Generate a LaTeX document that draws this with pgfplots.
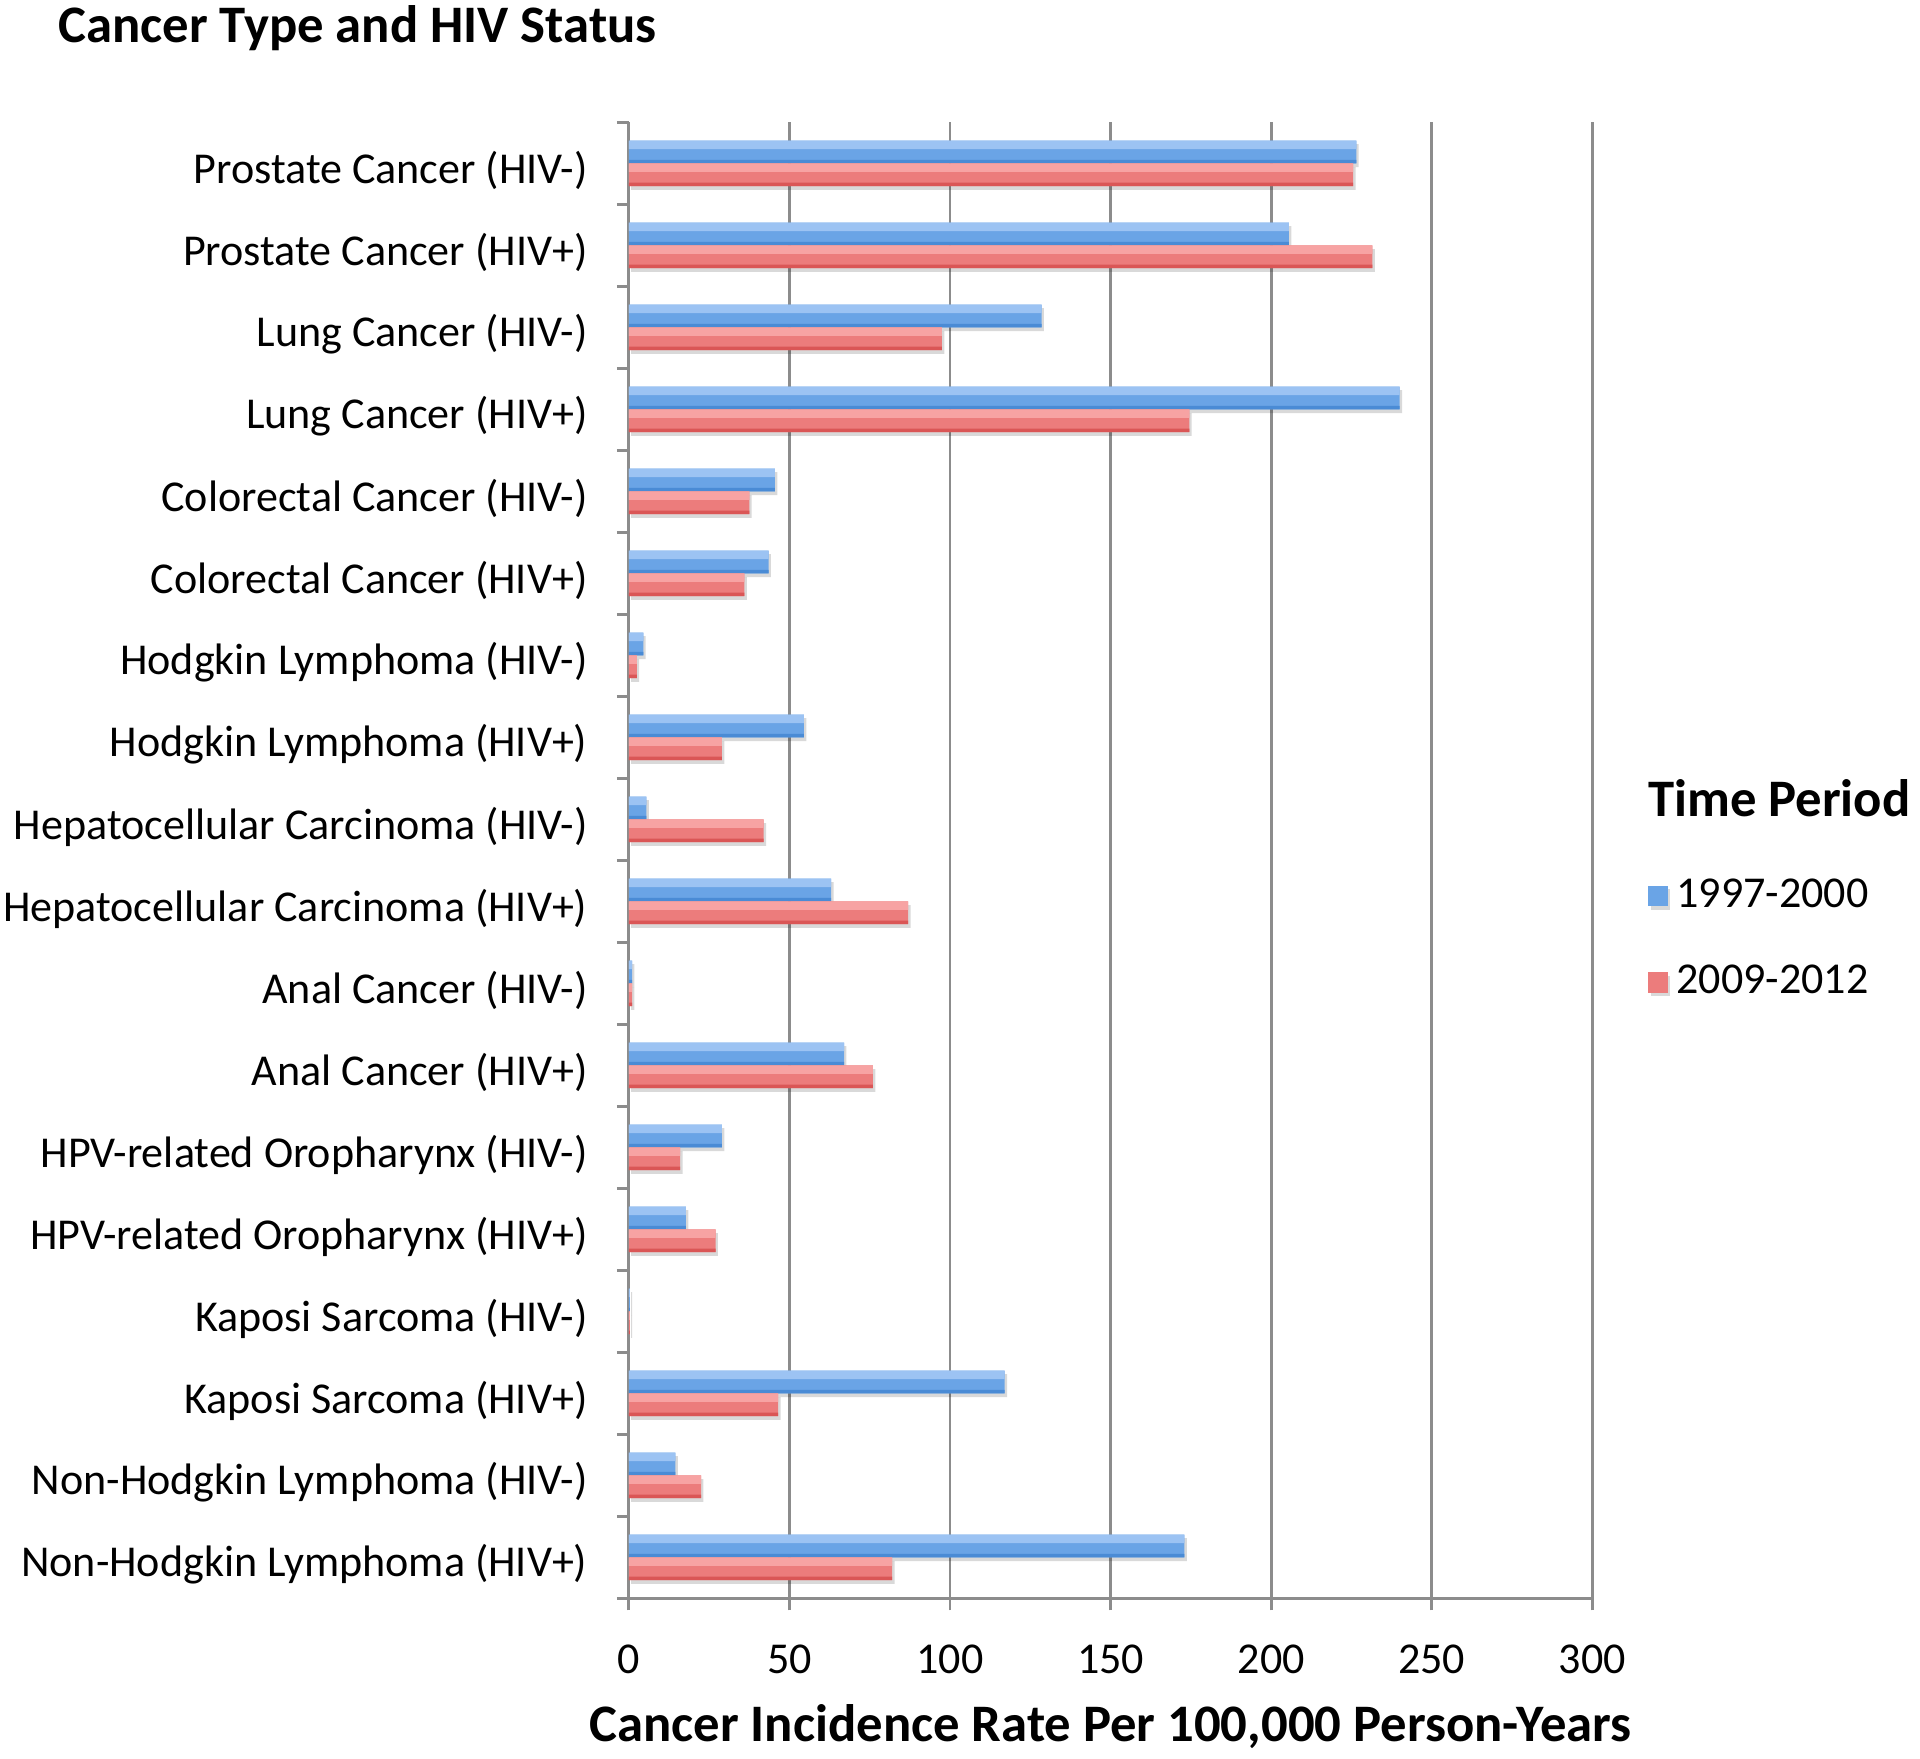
\documentclass[border=0pt]{standalone}
\usepackage{pgfplots}
\usepackage{pgfplotstable}
\pgfplotsset{compat=1.18}
\usepackage{fontspec}
\setmainfont{Carlito}
\usetikzlibrary{shadows}

\definecolor{gridgray}{HTML}{8C8C8C}
\definecolor{bluetop}{HTML}{9CC3F3}
\definecolor{bluemid}{HTML}{6AA4E6}
\definecolor{bluebot}{HTML}{4A8BD5}
\definecolor{redtop}{HTML}{F7A3A3}
\definecolor{redmid}{HTML}{EC7C7C}
\definecolor{redbot}{HTML}{DA5656}

\newcommand{\lab}{\fontsize{10.45}{12}\selectfont}
\newcommand{\blab}{\fontsize{12.5}{14}\selectfont\bfseries}

% rate per 100,000 person-years; pos 17 = top row
\pgfplotstableread{
rate pos
226.5 17
205.5 16
128.5 15
240   14
45.5  13
43.5  12
4.5   11
54.5  10
5.5   9
63    8
1     7
67    6
29    5
17.8  4
0.3   3
117   2
14.5  1
173   0
}\early

\pgfplotstableread{
rate pos
225.5 17
231.5 16
97.5  15
174.5 14
37.5  13
36    12
2.5   11
29    10
42    9
87    8
1     7
76    6
16    5
27    4
0.3   3
46.5  2
22.5  1
82    0
}\late

\begin{document}
\begin{tikzpicture}
\begin{axis}[
    xbar,
    scale only axis,
    width=8.03cm,
    height=12.3cm,
    xmin=0, xmax=300,
    ymin=-0.5, ymax=17.5,
    xtick={0,50,...,300},
    ytick={0,...,17},
    yticklabels={
        Non-Hodgkin Lymphoma (HIV+),
        Non-Hodgkin Lymphoma (HIV-),
        Kaposi Sarcoma (HIV+),
        Kaposi Sarcoma (HIV-),
        HPV-related Oropharynx (HIV+),
        HPV-related Oropharynx (HIV-),
        Anal Cancer (HIV+),
        Anal Cancer (HIV-),
        Hepatocellular Carcinoma (HIV+),
        Hepatocellular Carcinoma (HIV-),
        Hodgkin Lymphoma (HIV+),
        Hodgkin Lymphoma (HIV-),
        Colorectal Cancer (HIV+),
        Colorectal Cancer (HIV-),
        Lung Cancer (HIV+),
        Lung Cancer (HIV-),
        Prostate Cancer (HIV+),
        Prostate Cancer (HIV-)},
    minor ytick={-0.5,0.5,...,17.5},
    major y tick style={draw=none},
    minor tick length=0.1cm,
    major tick length=0.1cm,
    tick align=outside,
    tick style={gridgray, line width=0.7pt},
    axis lines*=left,
    axis line style={gridgray, line width=0.7pt},
    xmajorgrids,
    major x grid style={gridgray, line width=0.7pt},
    /pgf/number format/assume math mode=true,
    ticklabel style={font=\lab},
    yticklabel style={xshift=-0.12cm, yshift=-0.06cm},
    xticklabel style={yshift=-0.16cm},
    xlabel={Cancer Incidence Rate Per 100,000 Person-Years},
    xlabel style={font=\blab, at={(axis description cs:0.5,0)}, anchor=center, yshift=-1.07cm},
    legend style={draw=none, fill=none, font=\lab, at={(axis description cs:1.057,0.494)},
        anchor=north west, inner sep=0pt, row sep=0.29cm, cells={anchor=west}},
    legend image code/.code={%
        \fill[#1] (0cm,-0.085cm) rectangle (0.165cm,0.085cm);},
    clip=false,
]
% 1997-2000: base bar, then light upper band and dark lower edge
\addplot[bar shift=0.095cm, bar width=0.19cm, draw=none, fill=bluemid,
    drop shadow={shadow xshift=0.02cm, shadow yshift=-0.03cm, fill=black, opacity=0.15}]
    table[x=rate, y=pos] {\early};
\addplot[forget plot, bar shift=0.155cm, bar width=0.07cm, draw=none, fill=bluetop]
    table[x=rate, y=pos] {\early};
\addplot[forget plot, bar shift=0.015cm, bar width=0.03cm, draw=none, fill=bluebot]
    table[x=rate, y=pos] {\early};
% 2009-2012
\addplot[bar shift=-0.095cm, bar width=0.19cm, draw=none, fill=redmid,
    drop shadow={shadow xshift=0.02cm, shadow yshift=-0.03cm, fill=black, opacity=0.15}]
    table[x=rate, y=pos] {\late};
\addplot[forget plot, bar shift=-0.035cm, bar width=0.07cm, draw=none, fill=redtop]
    table[x=rate, y=pos] {\late};
\addplot[forget plot, bar shift=-0.175cm, bar width=0.03cm, draw=none, fill=redbot]
    table[x=rate, y=pos] {\late};
\legend{1997-2000, 2009-2012}
\node[anchor=west, inner sep=0pt, font=\blab] at (axis description cs:1.057,0.542) {Time Period};
\node[anchor=west, inner sep=0pt, font=\blab] at (axis description cs:-0.593,1.064) {Cancer Type and HIV Status};
\end{axis}
\pgfresetboundingbox
\path (-5.24cm,13.32cm) rectangle (10.76cm,-1.33cm);
\end{tikzpicture}
\end{document}
